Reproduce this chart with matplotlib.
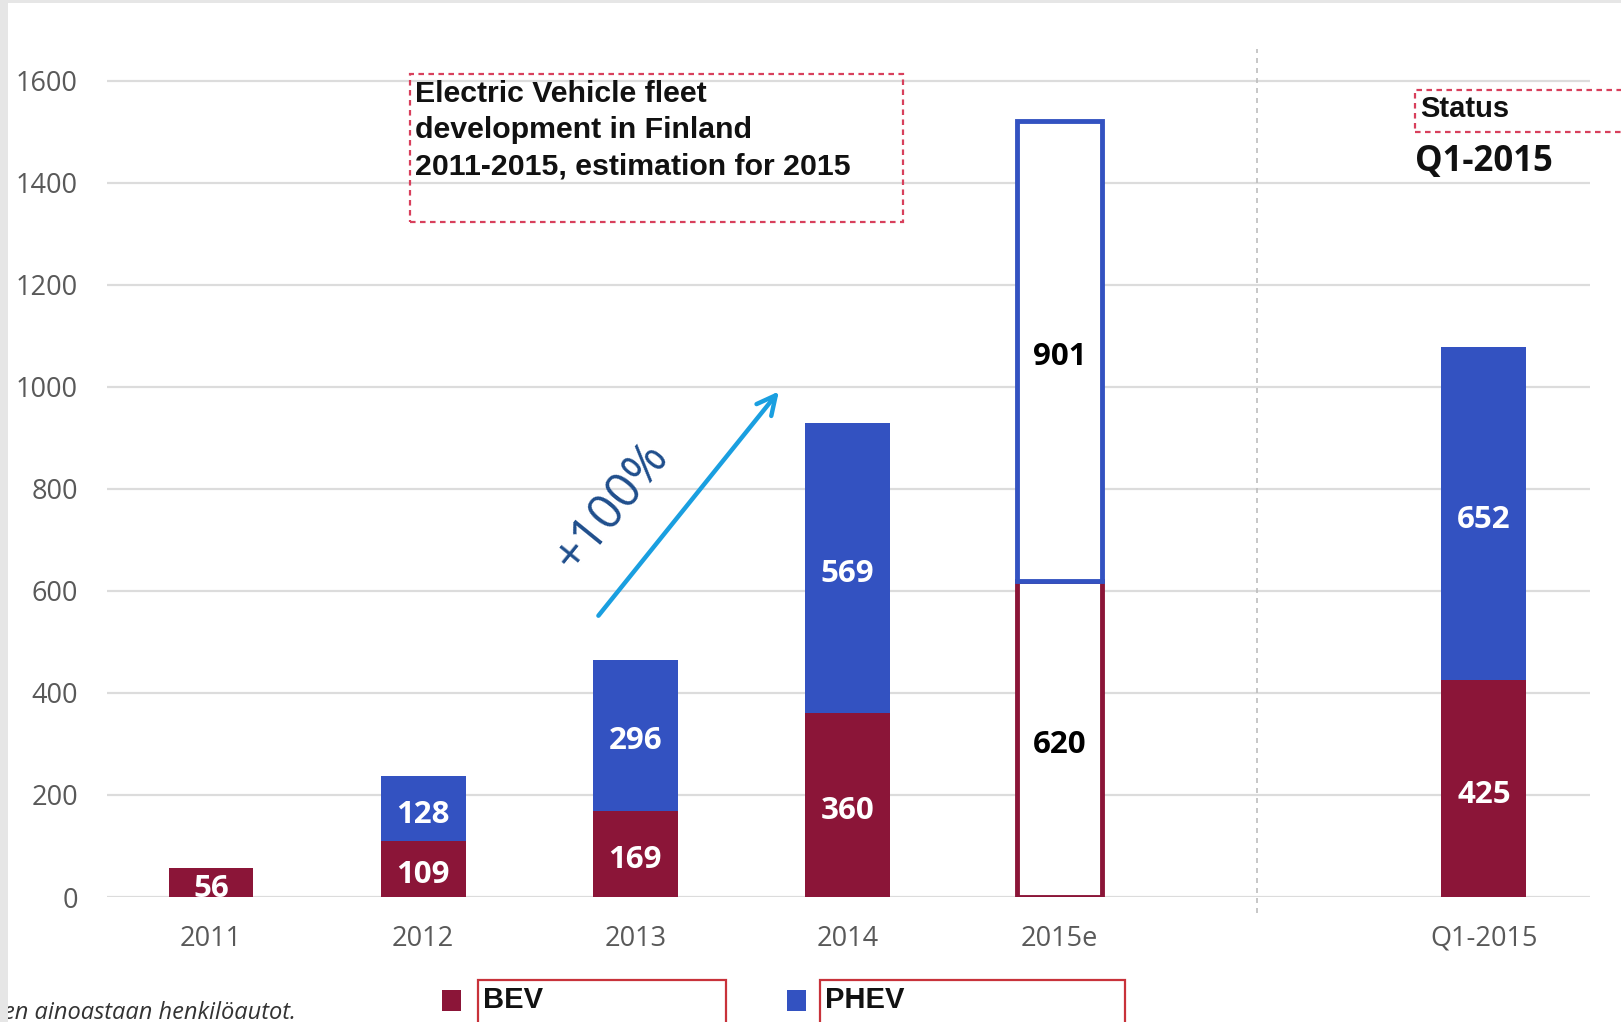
import matplotlib
matplotlib.use("Agg")
import matplotlib.pyplot as plt
from matplotlib.patches import Rectangle
from matplotlib.transforms import offset_copy

# ---------------- data ----------------
categories = ["2011", "2012", "2013", "2014", "2015e", "Q1-2015"]
positions = [0, 1, 2, 3, 4, 6]
bev = [56, 109, 169, 360, 620, 425]
phev = [0, 128, 296, 569, 901, 652]
estimate = [False, False, False, False, True, False]
yticks = [0, 200, 400, 600, 800, 1000, 1200, 1400, 1600]
title_lines = ["Electric Vehicle fleet", "development in Finland",
               "2011-2015, estimation for 2015"]
legend_labels = ["BEV", "PHEV"]
growth_label = "+100%"
footnote = "en ainoastaan henkilöautot."

BEV_C = "#8b1538"
PHEV_C = "#3352c1"
TICK_C = "#595959"
W, H = 1621, 1022

fig = plt.figure(figsize=(W / 100, H / 100), dpi=100)
fig.patch.set_facecolor("white")

def fx(px):
    return px / W

def fy(py):
    return 1 - py / H

ax = fig.add_axes([fx(107), fy(897), fx(1590) - fx(107), fy(29.5) - fy(897)])
ax.set_xlim(-0.49, 6.5)
ax.set_ylim(0, 1700)
for s in ax.spines.values():
    s.set_visible(False)
ax.set_yticks(yticks)
ax.yaxis.grid(True, color="#dcdcdc", lw=1.6)
ax.set_axisbelow(True)
ax.tick_params(axis="y", length=0, pad=21, labelsize=19.5, labelcolor=TICK_C)
ax.set_xticks(positions)
ax.set_xticklabels(categories)
ax.tick_params(axis="x", length=0, pad=20, labelsize=19.5, labelcolor=TICK_C)
for lab in ax.get_xticklabels() + ax.get_yticklabels():
    lab.set_fontfamily("Open Sans")

lbl_tr = offset_copy(ax.transData, fig=fig, x=0, y=-4.5, units="points")

bw = 0.4
for x, b, p, est in zip(positions, bev, phev, estimate):
    if est:
        ax.bar(x, b, bw, facecolor="white", edgecolor=BEV_C, lw=3.5, zorder=3)
        ax.bar(x, p, bw, bottom=b, facecolor="white", edgecolor=PHEV_C, lw=3.5, zorder=4)
        tc = "black"
    else:
        ax.bar(x, b, bw, color=BEV_C, zorder=3)
        if p > 0:
            ax.bar(x, p, bw, bottom=b, color=PHEV_C, zorder=3)
        tc = "white"
    ax.text(x, b / 2, str(b), ha="center", va="center", color=tc, transform=lbl_tr,
            fontsize=22.5, fontweight="bold", family="Open Sans", zorder=5)
    if p > 0:
        ax.text(x, b + p / 2, str(p), ha="center", va="center", color=tc, transform=lbl_tr,
                fontsize=22.5, fontweight="bold", family="Open Sans", zorder=5)

# separator between years and status
ax.plot([4.93, 4.93], [-31, 1662], ls=(0, (3, 3)), color="#bdbdbd", lw=1.2,
        clip_on=False, zorder=2)

# growth arrow
ax.annotate("", xy=(2.685, 995), xytext=(1.818, 547),
            arrowprops=dict(arrowstyle="->", color="#1a9fe0", lw=3.2,
                            mutation_scale=34), zorder=6)
ax.text(1.89, 765, growth_label, rotation=51, ha="center", va="center",
        color="#1f4e8c", fontsize=35, family="Open Sans", zorder=6)

# title box
fig.patches.append(Rectangle((fx(410), fy(222)), fx(903) - fx(410), fy(74) - fy(222),
                             transform=fig.transFigure, fill=False,
                             edgecolor="#d8405c", lw=1.6, ls=(0, (2.5, 2))))
for i, line in enumerate(title_lines):
    fig.text(fx(415), fy(94 + 36 * i), line, ha="left", va="center",
             fontsize=21.8, fontweight="bold", family="Liberation Sans", color="#111111")

# status box
fig.patches.append(Rectangle((fx(1415), fy(132)), fx(1660) - fx(1415), fy(90) - fy(132),
                             transform=fig.transFigure, fill=False,
                             edgecolor="#d8405c", lw=1.6, ls=(0, (2.5, 2))))
fig.text(fx(1420), fy(109), "Status", ha="left", va="center", fontsize=21,
         fontweight="bold", family="Liberation Sans", color="#111111")
fig.text(fx(1415), fy(162), "Q1-2015", ha="left", va="center", fontsize=25,
         fontweight="bold", family="Open Sans", color="#111111")

# legend
for (sx, bx0, bx1), lab, col in zip([(442, 478, 726), (787, 820, 1125)],
                                     legend_labels, [BEV_C, PHEV_C]):
    fig.patches.append(Rectangle((fx(sx), fy(1011)), fx(19), fy(990) - fy(1011),
                                 transform=fig.transFigure, facecolor=col,
                                 edgecolor="none"))
    fig.patches.append(Rectangle((fx(bx0), fy(1040)), fx(bx1) - fx(bx0), fy(980) - fy(1040),
                                 transform=fig.transFigure, fill=False,
                                 edgecolor="#c8323a", lw=1.6))
    fig.text(fx(bx0 + 5), fy(1000), lab, ha="left", va="center", fontsize=21,
             fontweight="bold", family="Liberation Sans", color="#111111")

# footnote (cut at left edge)
fig.text(fx(3), fy(1013), footnote, ha="left", va="center", fontsize=17,
         style="italic", family="Open Sans", color="#333333")

# light grey frame strips
fig.patches.append(Rectangle((0, 0), fx(8), 1, transform=fig.transFigure,
                             facecolor="#e6e6e6", edgecolor="none", zorder=10))
fig.patches.append(Rectangle((0, fy(3)), 1, fy(0) - fy(3), transform=fig.transFigure,
                             facecolor="#e6e6e6", edgecolor="none", zorder=10))

fig.savefig("out.png", dpi=100)
